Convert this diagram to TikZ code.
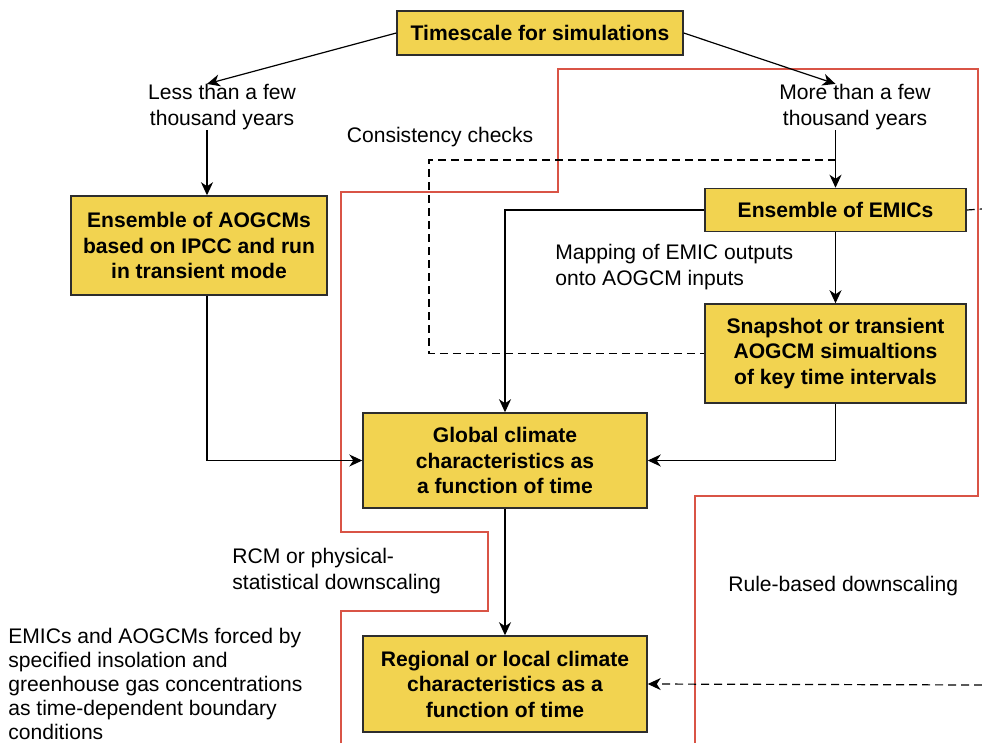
\documentclass[tikz,border=0pt]{standalone}
\usepackage{fontspec}
\setmainfont{Liberation Sans}
\usetikzlibrary{arrows.meta}
\definecolor{boxyellow}{RGB}{242,211,80}
\definecolor{boxedge}{RGB}{45,45,45}
\definecolor{bordred}{RGB}{217,84,70}

\begin{document}
\begin{tikzpicture}[x=0.02cm, y=-0.02cm,
  box/.style={draw=boxedge, line width=.03cm, fill=boxyellow, align=center, inner sep=0pt,
    font=\bfseries\fontsize{12}{14.5}\selectfont},
  lbl/.style={inner sep=0pt, font=\fontsize{12}{14.7}\selectfont},
  arr/.style={-{Stealth[length=.26cm,width=.24cm,inset=.08cm]}, line width=.024cm},
  dashline/.style={line width=.024cm, dash pattern=on .16cm off .1cm},
  border/.style={draw=bordred, line width=.045cm}]
\clip (0,0) rectangle (982,743);
\draw[border] (341,743) -- (341,611) -- (488,611) -- (488,532) -- (341,532) -- (341,192) -- (558,192)
  -- (558,69) -- (978,69) -- (978,496) -- (695,496) -- (695,743);

\node[box, minimum width=5.72cm, minimum height=.88cm] (time) at (540,33) {Timescale for simulations};
\node[lbl, align=center] (less) at (222,107) {Less than a few\\thousand years};
\node[lbl, align=center] (more) at (855,107) {More than a few\\thousand years};
\node[lbl] (check) at (440,137) {Consistency checks};
\node[box, minimum width=5.12cm, minimum height=1.98cm] (aogcm) at (199,245.5) {Ensemble of AOGCMs\\based on IPCC and run\\in transient mode};
\node[box, minimum width=5.22cm, minimum height=.86cm] (emic) at (835.5,210) {Ensemble of EMICs};
\node[lbl, align=left, anchor=west] (map) at (555,267) {Mapping of EMIC outputs\\onto AOGCM inputs};
\node[box, minimum width=5.22cm, minimum height=1.98cm] (snap) at (835.5,353.5) {Snapshot or transient\\AOGCM simualtions\\of key time intervals};
\node[box, minimum width=5.68cm, minimum height=1.9cm] (glob) at (505,460.5) {Global climate\\characteristics as\\a function of time};
\node[lbl, align=left, anchor=west] (rcm) at (232,571) {RCM or physical-\\statistical downscaling};
\node[lbl, anchor=west] (rule) at (728,586) {Rule-based downscaling};
\node[box, minimum width=5.68cm, minimum height=1.92cm] (reg) at (505,684) {Regional or local climate\\characteristics as a\\function of time};
\node[lbl, align=left, anchor=west, font=\fontsize{12}{13.6}\selectfont] (forced) at (8,684) {EMICs and AOGCMs forced by\\specified insolation and\\greenhouse gas concentrations\\as time-dependent boundary\\conditions};

\coordinate (lx) at (207,135);
\coordinate (cc) at (429,160);
\coordinate (eout) at (982,209);
\coordinate (rin) at (982,685);

\draw[arr] (time.west) -- (less.north -| lx);
\draw[arr] (time.east) -- (more.north -| emic.north);
\draw[arr] (less.south -| lx) -- (aogcm.north -| lx);
\draw[arr] (more.south -| emic.north) -- (emic.north);
\draw[arr] (aogcm.south -| lx) |- (glob.west);
\draw[arr] (emic.west) -| (glob.north);
\draw[arr] (emic.south) -- (snap.north);
\draw[arr] (snap.south) |- (glob.east);
\draw[arr] (glob.south) -- (reg.north);
\draw[dashline] (cc -| emic.north) -- (cc) |- (snap.west);
\draw[dashline] (emic.east) -- (eout);
\draw[dashline, arr] (rin) -- (reg.east);
\end{tikzpicture}
\end{document}
